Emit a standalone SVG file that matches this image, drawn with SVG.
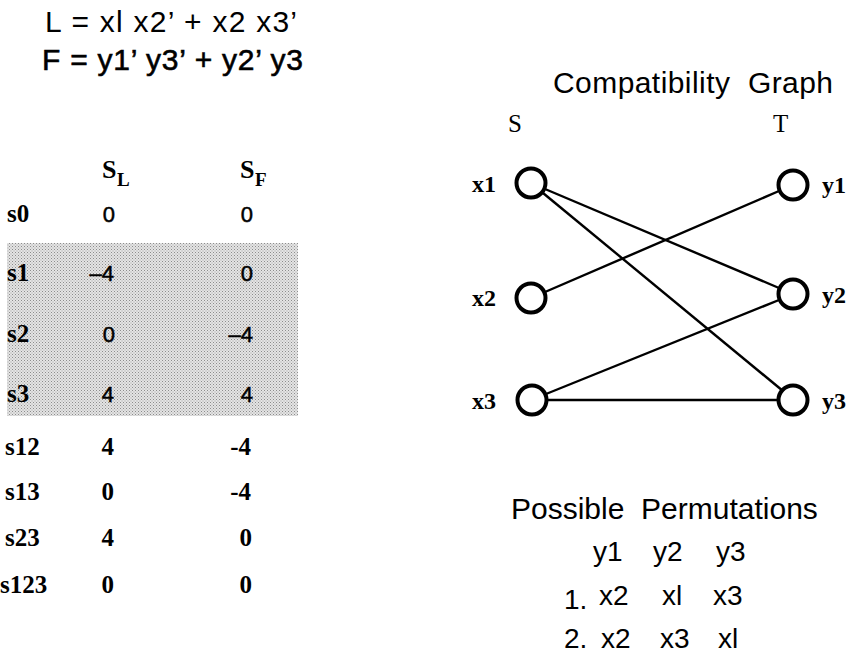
<svg xmlns="http://www.w3.org/2000/svg" width="851" height="659" viewBox="0 0 851 659">
<defs>
<pattern id="dots" width="3" height="3" patternUnits="userSpaceOnUse">
<rect width="3" height="3" fill="#e4e4e4"/>
<rect x="0" y="0" width="1" height="1" fill="#8c8c8c"/>
<rect x="1.5" y="1.5" width="1" height="1" fill="#a0a0a0"/>
</pattern>
</defs>
<style>
.sans{font-family:"Liberation Sans",Arial,sans-serif;fill:#000}
.f30{font-size:30px}
.f28{font-size:28px}
.val{font-family:"Liberation Sans",Arial,sans-serif;font-size:22px;text-anchor:end;stroke:#000;stroke-width:0.5}
.tb{font-family:"Liberation Serif","Times New Roman",serif;font-weight:bold;fill:#000}
.row{font-size:25px}
.tv{font-size:25px;text-anchor:end}
.node{fill:#fff;stroke:#000;stroke-width:4}
.edge{stroke:#000;stroke-width:2.4;fill:none}
.lbl{font-size:24px}
.ser{font-family:"Liberation Serif","Times New Roman",serif;fill:#000;font-size:25px}
</style>
<rect width="851" height="659" fill="#fff"/>

<g id="formulas">
<text class="sans f30" x="45" y="32" textLength="252" lengthAdjust="spacing">L = xl x2’ + x2 x3’</text>
<text class="sans f30" x="42" y="70" textLength="261" lengthAdjust="spacing" stroke="#000" stroke-width="0.6">F = y1’ y3’ + y2’ y3</text>
</g>

<g id="table">
<rect x="7" y="243" width="291" height="173" fill="url(#dots)"/>
<text class="tb" x="102" y="178" font-size="26">S</text>
<text class="tb" x="117" y="186" font-size="19">L</text>
<text class="tb" x="240" y="178" font-size="26">S</text>
<text class="tb" x="255" y="186" font-size="19">F</text>

<text class="tb row" x="7" y="222">s0</text>
<text class="val" x="115" y="222">0</text>
<text class="val" x="253" y="222">0</text>

<text class="tb row" x="7" y="281">s1</text>
<text class="val" x="114" y="281">–4</text>
<text class="val" x="253" y="281">0</text>

<text class="tb row" x="7" y="342">s2</text>
<text class="val" x="115" y="342">0</text>
<text class="val" x="253" y="342">–4</text>

<text class="tb row" x="7" y="402">s3</text>
<text class="val" x="114" y="402">4</text>
<text class="val" x="253" y="402">4</text>

<text class="tb row" x="5" y="455">s12</text>
<text class="tb tv" x="114" y="455">4</text>
<text class="tb tv" x="251" y="455">-4</text>

<text class="tb row" x="5" y="500">s13</text>
<text class="tb tv" x="114" y="500">0</text>
<text class="tb tv" x="251" y="500">-4</text>

<text class="tb row" x="5" y="546">s23</text>
<text class="tb tv" x="114" y="546">4</text>
<text class="tb tv" x="252" y="546">0</text>

<text class="tb row" x="0" y="593">s123</text>
<text class="tb tv" x="114" y="593">0</text>
<text class="tb tv" x="252" y="593">0</text>
</g>

<g id="graph-title">
<text class="sans f30" x="553" y="93" textLength="280" lengthAdjust="spacing" xml:space="preserve">Compatibility  Graph</text>
<text class="ser" x="508" y="132">S</text>
<text class="ser" x="773" y="132">T</text>
</g>

<g id="connectors">
<line class="edge" x1="545" y1="189" x2="779" y2="288"/>
<line class="edge" x1="543" y1="193" x2="783" y2="391"/>
<line class="edge" x1="545" y1="292" x2="779" y2="191"/>
<line class="edge" x1="546" y1="394" x2="779" y2="300"/>
<line class="edge" x1="547" y1="400" x2="778" y2="400" stroke-width="1.8"/>
</g>

<g id="x1"><circle class="node" cx="531" cy="183" r="14.5"/><text class="tb lbl" x="472" y="192">x1</text></g>
<g id="x2"><circle class="node" cx="531" cy="298" r="14.5"/><text class="tb lbl" x="472" y="306">x2</text></g>
<g id="x3"><circle class="node" cx="532" cy="400" r="14.5"/><text class="tb lbl" x="472" y="409">x3</text></g>
<g id="y1"><circle class="node" cx="793" cy="185" r="14.5"/><text class="tb lbl" x="822" y="193">y1</text></g>
<g id="y2"><circle class="node" cx="793" cy="294" r="14.5"/><text class="tb lbl" x="822" y="303">y2</text></g>
<g id="y3"><circle class="node" cx="793" cy="400" r="14.5"/><text class="tb lbl" x="822" y="409">y3</text></g>

<g id="permutations">
<text class="sans f30" x="511" y="519" xml:space="preserve">Possible  Permutations</text>
<text class="sans f28" x="593" y="561">y1</text>
<text class="sans f28" x="653" y="561">y2</text>
<text class="sans f28" x="716" y="561">y3</text>
<text class="sans f28" x="564" y="609">1.</text>
<text class="sans f28" x="599" y="605">x2</text>
<text class="sans f28" x="662" y="605">xl</text>
<text class="sans f28" x="713" y="605">x3</text>
<text class="sans f28" x="564" y="648">2.</text>
<text class="sans f28" x="601" y="648">x2</text>
<text class="sans f28" x="660" y="648">x3</text>
<text class="sans f28" x="718" y="648">xl</text>
</g>
</svg>
